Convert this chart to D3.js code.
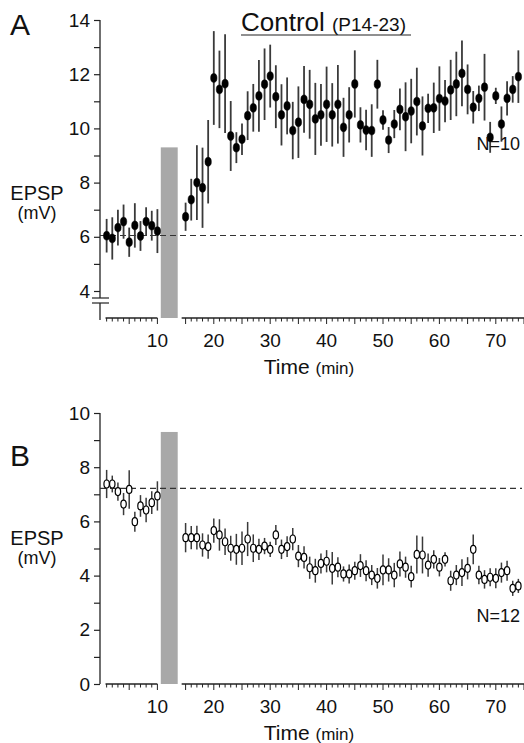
<!DOCTYPE html>
<html><head><meta charset="utf-8">
<script src="https://cdn.jsdelivr.net/npm/d3@7"></script>
<style>body{margin:0;background:#fff}svg{display:block;font-family:"Liberation Sans",Arial,sans-serif}</style>
</head><body><svg id="c" width="524" height="743"></svg>
<script>
// ---- data ----
const times = [1,2,3,4,5,6,7,8,9,10].concat(d3.range(15,75));
const ctrlMean = [6.04,5.94,6.34,6.56,5.80,6.42,6.03,6.56,6.41,6.21,
  6.74,7.37,8.00,7.81,8.77,11.86,11.44,11.65,9.72,9.29,9.60,10.47,10.76,11.20,11.63,11.93,11.17,10.50,10.83,9.92,
  10.23,11.07,10.89,10.35,10.50,10.89,10.50,10.89,10.04,10.50,11.64,10.13,9.94,9.92,11.63,10.31,9.57,10.16,10.70,10.43,
  10.64,10.99,10.09,10.74,10.76,11.10,11.01,11.42,11.64,12.03,11.44,10.78,11.11,11.52,9.67,11.20,10.16,11.11,11.44,11.91];
const ctrlSem = [0.62,0.78,0.66,0.63,0.54,0.82,0.55,0.53,0.55,0.81,
  0.52,0.77,1.38,1.48,1.54,1.73,1.43,1.82,1.29,0.57,0.58,0.90,0.88,1.32,1.32,1.16,1.16,1.13,1.05,1.06,
  1.32,1.23,1.27,1.33,1.14,1.39,1.17,1.45,1.09,1.02,1.24,0.65,0.75,0.97,0.90,0.36,0.48,0.52,0.77,1.27,
  1.19,1.25,1.09,0.54,0.93,1.19,0.78,1.11,1.19,1.21,0.92,0.60,0.47,1.23,0.57,0.30,0.65,0.63,0.49,0.97];
const bMean = [7.38,7.38,7.10,6.64,7.18,5.99,6.57,6.42,6.69,6.94,
  5.40,5.40,5.40,5.13,5.07,5.66,5.50,5.25,5.01,4.97,5.01,5.35,5.01,4.97,5.09,4.97,5.50,4.97,5.07,5.35,
  4.72,4.67,4.29,4.18,4.45,4.53,4.27,4.31,4.06,4.06,4.18,4.37,4.18,4.02,3.90,4.21,4.21,4.02,4.43,4.31,
  3.96,4.78,4.76,4.39,4.60,4.31,4.60,3.81,4.02,4.11,4.27,4.97,4.02,3.86,3.94,3.90,4.11,4.18,3.53,3.62];
const bSem = [0.52,0.31,0.34,0.41,0.71,0.37,0.40,0.45,0.42,0.54,
  0.54,0.43,0.44,0.43,0.45,0.45,0.58,0.49,0.46,0.57,0.62,0.63,0.51,0.39,0.30,0.28,0.37,0.36,0.38,0.41,
  0.41,0.41,0.41,0.44,0.37,0.41,0.60,0.37,0.28,0.35,0.33,0.42,0.39,0.37,0.38,0.57,0.43,0.45,0.46,0.39,
  0.40,0.70,0.68,0.43,0.34,0.34,0.26,0.37,0.37,0.49,0.41,0.55,0.34,0.34,0.33,0.37,0.37,0.37,0.28,0.26];
const tetanus = [10.6, 13.6];      // grey bar, min
const barTop = 9.3;               // mV
const baselineA = 6.05, baselineB = 7.22;
const xTickLabels = [10,20,30,40,50,60,70];
const yTicksA = [14,12,10,8,6,4];
const yTicksB = [10,8,6,4,2,0];
const axisSegments = [[0.8,10],[14.3,75]];

// ---- drawing ----
const svg = d3.select("#c");
const x = d3.scaleLinear().domain([0,75]).range([101,524]);

function panel(cfg){
  const g = svg.append("g");
  const y = cfg.y;
  const ax = 100;
  // grey bar
  g.append("rect").attr("x", x(tetanus[0])).attr("width", x(tetanus[1])-x(tetanus[0]))
    .attr("y", y(barTop)).attr("height", cfg.xAxisY - y(barTop)).attr("fill","#a8a8a8");
  // y axis
  const ya = g.append("g").attr("transform",`translate(${ax},0)`)
    .call(d3.axisLeft(y).tickValues(d3.range(cfg.dom[0], cfg.dom[1]+1)).tickSize(6).tickPadding(4)
      .tickFormat(d => cfg.labels.includes(d) ? d : ""));
  ya.select(".domain").remove();
  ya.selectAll("text").attr("font-size",19).attr("font-family","Liberation Sans, Arial, sans-serif").attr("fill","#111");
  ya.selectAll("line").attr("stroke","#222").attr("stroke-width",1.2);
  if(cfg.brk){
    g.append("line").attr("x1",ax).attr("x2",ax).attr("y1",y(cfg.dom[1])).attr("y2",cfg.brk[0]).attr("stroke","#222").attr("stroke-width",1.3);
    g.append("line").attr("x1",ax).attr("x2",ax).attr("y1",cfg.brk[1]).attr("y2",cfg.xAxisY+2).attr("stroke","#222").attr("stroke-width",1.3);
    cfg.brk.forEach(b => g.append("line").attr("x1",92).attr("x2",109).attr("y1",b).attr("y2",b).attr("stroke","#222").attr("stroke-width",1.2));
  } else {
    g.append("line").attr("x1",ax).attr("x2",ax).attr("y1",y(cfg.dom[1])).attr("y2",y(cfg.dom[0])).attr("stroke","#222").attr("stroke-width",1.3);
  }
  // x axis segments
  axisSegments.forEach(s=>{
    g.append("line").attr("x1",x(s[0])).attr("x2",x(s[1])).attr("y1",cfg.xAxisY).attr("y2",cfg.xAxisY).attr("stroke","#222").attr("stroke-width",1.3);
    d3.range(Math.ceil(s[0]), Math.floor(s[1])+1).forEach(t=>{
      g.append("line").attr("x1",x(t)).attr("x2",x(t)).attr("y1",cfg.xAxisY).attr("y2",cfg.xAxisY+(t%5===0?6:3.5))
        .attr("stroke","#222").attr("stroke-width",1);
    });
  });
  g.selectAll(".xl").data(xTickLabels).join("text").attr("x",d=>x(d)).attr("y",cfg.xAxisY+29)
    .attr("text-anchor","middle").attr("font-size",19).attr("fill","#111").text(d=>d);
  const tl = g.append("text").attr("x",309).attr("y",cfg.xAxisY+56).attr("text-anchor","middle").attr("fill","#111");
  tl.append("tspan").attr("font-size",21).text("Time ");
  tl.append("tspan").attr("font-size",17).text("(min)");
  // y label
  g.append("text").attr("x",37).attr("y",cfg.lab).attr("text-anchor","middle").attr("font-size",20).attr("fill","#111").text("EPSP");
  g.append("text").attr("x",37).attr("y",cfg.lab+19).attr("text-anchor","middle").attr("font-size",18).attr("fill","#111").text("(mV)");
  // panel letter
  g.append("text").attr("x",10).attr("y",cfg.letterY).attr("font-size",30).attr("fill","#111").text(cfg.letter);
  // baseline
  g.append("line").attr("x1",ax).attr("x2",522).attr("y1",y(cfg.base)).attr("y2",y(cfg.base))
    .attr("stroke","#333").attr("stroke-width",1.1).attr("stroke-dasharray","6,4");
  // error bars + markers
  const pts = times.map((t,i)=>({t, m:cfg.mean[i], s:cfg.sem[i]}));
  g.selectAll(".eb").data(pts).join("line").attr("x1",d=>x(d.t)).attr("x2",d=>x(d.t))
    .attr("y1",d=>y(d.m+d.s)).attr("y2",d=>y(d.m-d.s)).attr("stroke","#3a3a3a").attr("stroke-width",cfg.filled?1.8:1.5);
  g.selectAll(".pt").data(pts).join("ellipse").attr("cx",d=>x(d.t)).attr("cy",d=>y(d.m))
    .attr("rx",cfg.filled?3.2:2.7).attr("ry",cfg.filled?4.4:4.0)
    .attr("fill",cfg.filled?"#000":"#fff").attr("stroke","#000").attr("stroke-width",cfg.filled?0.5:1.2);
  // N label
  g.append("text").attr("x",520).attr("y",cfg.nY).attr("text-anchor","end").attr("font-size",18).attr("fill","#111").text(cfg.n);
}

const yA = d3.scaleLinear().domain([4,14]).range([291,20]);
panel({y:yA, dom:[4,14], labels:yTicksA, xAxisY:318, brk:[298,303], lab:200, letter:"A", letterY:35,
  base:baselineA, mean:ctrlMean, sem:ctrlSem, filled:true, n:"N=10", nY:150});
const yB = d3.scaleLinear().domain([0,10]).range([684,413]);
panel({y:yB, dom:[0,10], labels:yTicksB, xAxisY:684, brk:null, lab:545, letter:"B", letterY:466,
  base:baselineB, mean:bMean, sem:bSem, filled:false, n:"N=12", nY:622});

// title
const tt = svg.append("text").attr("x",241).attr("y",31).attr("fill","#111");
tt.append("tspan").attr("font-size",26).text("Control ");
tt.append("tspan").attr("font-size",19).text("(P14-23)");
svg.append("line").attr("x1",241).attr("x2",411).attr("y1",35).attr("y2",35).attr("stroke","#222").attr("stroke-width",1.2);
</script></body></html>
